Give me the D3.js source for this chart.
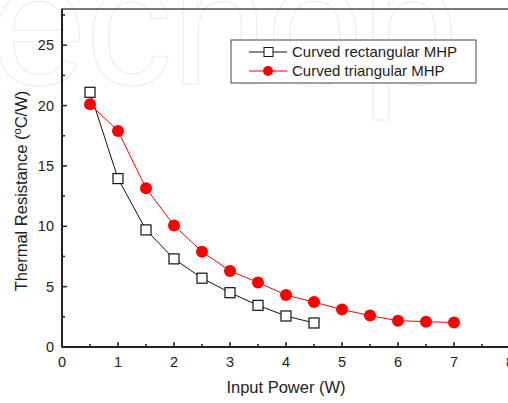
<!DOCTYPE html>
<html>
<head>
<meta charset="utf-8">
<script src="https://cdn.jsdelivr.net/npm/d3@7"></script>
<style>
body { margin: 0; background: #fff; }
svg { font-family: "Liberation Sans", Arial, sans-serif; }
</style>
</head>
<body>
<svg id="chart"></svg>
<script>
// data
var rectX = [0.5, 1, 1.5, 2, 2.5, 3, 3.5, 4, 4.5];
var rectY = [21.1, 13.95, 9.7, 7.3, 5.7, 4.5, 3.45, 2.57, 1.99];
var triX = [0.5, 1, 1.5, 2, 2.5, 3, 3.5, 4, 4.5, 5, 5.5, 6, 6.5, 7];
var triY = [20.1, 17.9, 13.15, 10.07, 7.9, 6.3, 5.35, 4.3, 3.72, 3.1, 2.6, 2.18, 2.1, 2.02];
var xTicks = [0, 1, 2, 3, 4, 5, 6, 7, 8];
var yTicks = [0, 5, 10, 15, 20, 25];
var seriesNames = ["Curved rectangular MHP", "Curved triangular MHP"];

var W = 508, H = 403;
var svg = d3.select("#chart").attr("width", W).attr("height", H);

// faint watermark behind everything
svg.append("text")
    .attr("x", -10)
    .attr("y", 84)
    .attr("font-size", 175)
    .attr("fill", "none")
    .attr("stroke", "#eeeeee")
    .attr("stroke-width", 1.2)
    .attr("letter-spacing", -2)
    .text("ecnop");

var x = d3.scaleLinear().domain([0, 8]).range([62, 510]);
var y = d3.scaleLinear().domain([0, 28]).range([347, 9]);

// frame (right side falls off the canvas)
svg.append("rect")
    .attr("x", x(0)).attr("y", y(28))
    .attr("width", x(8) - x(0)).attr("height", y(0) - y(28))
    .attr("fill", "none").attr("stroke", "#222").attr("stroke-width", 1.2);

// x axis, ticks inward
var xAxis = svg.append("g").attr("transform", "translate(0," + y(0) + ")");
xAxis.append("line").attr("x1", x(0)).attr("x2", x(8)).attr("stroke", "#222").attr("stroke-width", 2);
xAxis.selectAll(".xmaj").data(xTicks).enter().append("line")
    .attr("x1", function(d){return x(d)}).attr("x2", function(d){return x(d)})
    .attr("y1", 0).attr("y2", -5).attr("stroke", "#222").attr("stroke-width", 1.5);
xAxis.selectAll(".xmin").data(d3.range(0.5, 8, 1)).enter().append("line")
    .attr("x1", function(d){return x(d)}).attr("x2", function(d){return x(d)})
    .attr("y1", 0).attr("y2", -3).attr("stroke", "#222").attr("stroke-width", 1.5);
xAxis.selectAll(".xlab").data(xTicks).enter().append("text")
    .attr("x", function(d){return x(d)}).attr("y", 20)
    .attr("text-anchor", "middle").attr("font-size", 14.5).attr("fill", "#222")
    .text(function(d){return d});

// y axis
var yAxis = svg.append("g").attr("transform", "translate(" + x(0) + ",0)");
yAxis.append("line").attr("y1", y(0)).attr("y2", y(28)).attr("stroke", "#222").attr("stroke-width", 2);
yAxis.selectAll(".ymaj").data(yTicks).enter().append("line")
    .attr("y1", function(d){return y(d)}).attr("y2", function(d){return y(d)})
    .attr("x1", 0).attr("x2", 5).attr("stroke", "#222").attr("stroke-width", 1.5);
yAxis.selectAll(".ymin").data(d3.range(2.5, 28, 5)).enter().append("line")
    .attr("y1", function(d){return y(d)}).attr("y2", function(d){return y(d)})
    .attr("x1", 0).attr("x2", 3).attr("stroke", "#222").attr("stroke-width", 1.5);
yAxis.selectAll(".ylab").data(yTicks).enter().append("text")
    .attr("x", -8).attr("y", function(d){return y(d) + 5})
    .attr("text-anchor", "end").attr("font-size", 14.5).attr("fill", "#222")
    .text(function(d){return d});

// axis titles
svg.append("text")
    .attr("x", 286).attr("y", 393)
    .attr("text-anchor", "middle").attr("font-size", 16.5).attr("fill", "#222")
    .text("Input Power (W)");
var yt = svg.append("text")
    .attr("transform", "translate(27,191) rotate(-90)")
    .attr("text-anchor", "middle").attr("font-size", 16.5).attr("fill", "#222");
yt.append("tspan").text("Thermal Resistance (");
yt.append("tspan").attr("font-size", 11).attr("dy", -6).text("o");
yt.append("tspan").attr("dy", 6).text("C/W)");

var line = d3.line().x(function(d){return x(d[0])}).y(function(d){return y(d[1])});
var rectData = d3.zip(rectX, rectY);
var triData = d3.zip(triX, triY);

svg.append("path").datum(rectData).attr("d", line)
    .attr("fill", "none").attr("stroke", "#111").attr("stroke-width", 1);
svg.append("path").datum(triData).attr("d", line)
    .attr("fill", "none").attr("stroke", "#ff0000").attr("stroke-width", 1);

svg.selectAll(".sq").data(rectData).enter().append("rect")
    .attr("x", function(d){return x(d[0]) - 5}).attr("y", function(d){return y(d[1]) - 5})
    .attr("width", 10).attr("height", 10)
    .attr("fill", "#fff").attr("stroke", "#111").attr("stroke-width", 1.2);
svg.selectAll(".dot").data(triData).enter().append("circle")
    .attr("cx", function(d){return x(d[0])}).attr("cy", function(d){return y(d[1])})
    .attr("r", 6).attr("fill", "#ff0000");

// legend
var lg = svg.append("g");
lg.append("rect").attr("x", 231).attr("y", 40).attr("width", 245).attr("height", 43)
    .attr("fill", "#fff").attr("stroke", "#444").attr("stroke-width", 1);
lg.append("line").attr("x1", 249).attr("x2", 287).attr("y1", 52).attr("y2", 52).attr("stroke", "#111");
lg.append("rect").attr("x", 264).attr("y", 47.5).attr("width", 9).attr("height", 9)
    .attr("fill", "#fff").attr("stroke", "#111");
lg.append("line").attr("x1", 249).attr("x2", 287).attr("y1", 71).attr("y2", 71).attr("stroke", "#ff0000");
lg.append("circle").attr("cx", 268).attr("cy", 71).attr("r", 5).attr("fill", "#ff0000");
lg.selectAll(".lt").data(seriesNames).enter().append("text")
    .attr("x", 292).attr("y", function(d, i){return 57 + i * 19})
    .attr("font-size", 15).attr("fill", "#222")
    .text(function(d){return d});
</script>
</body>
</html>
